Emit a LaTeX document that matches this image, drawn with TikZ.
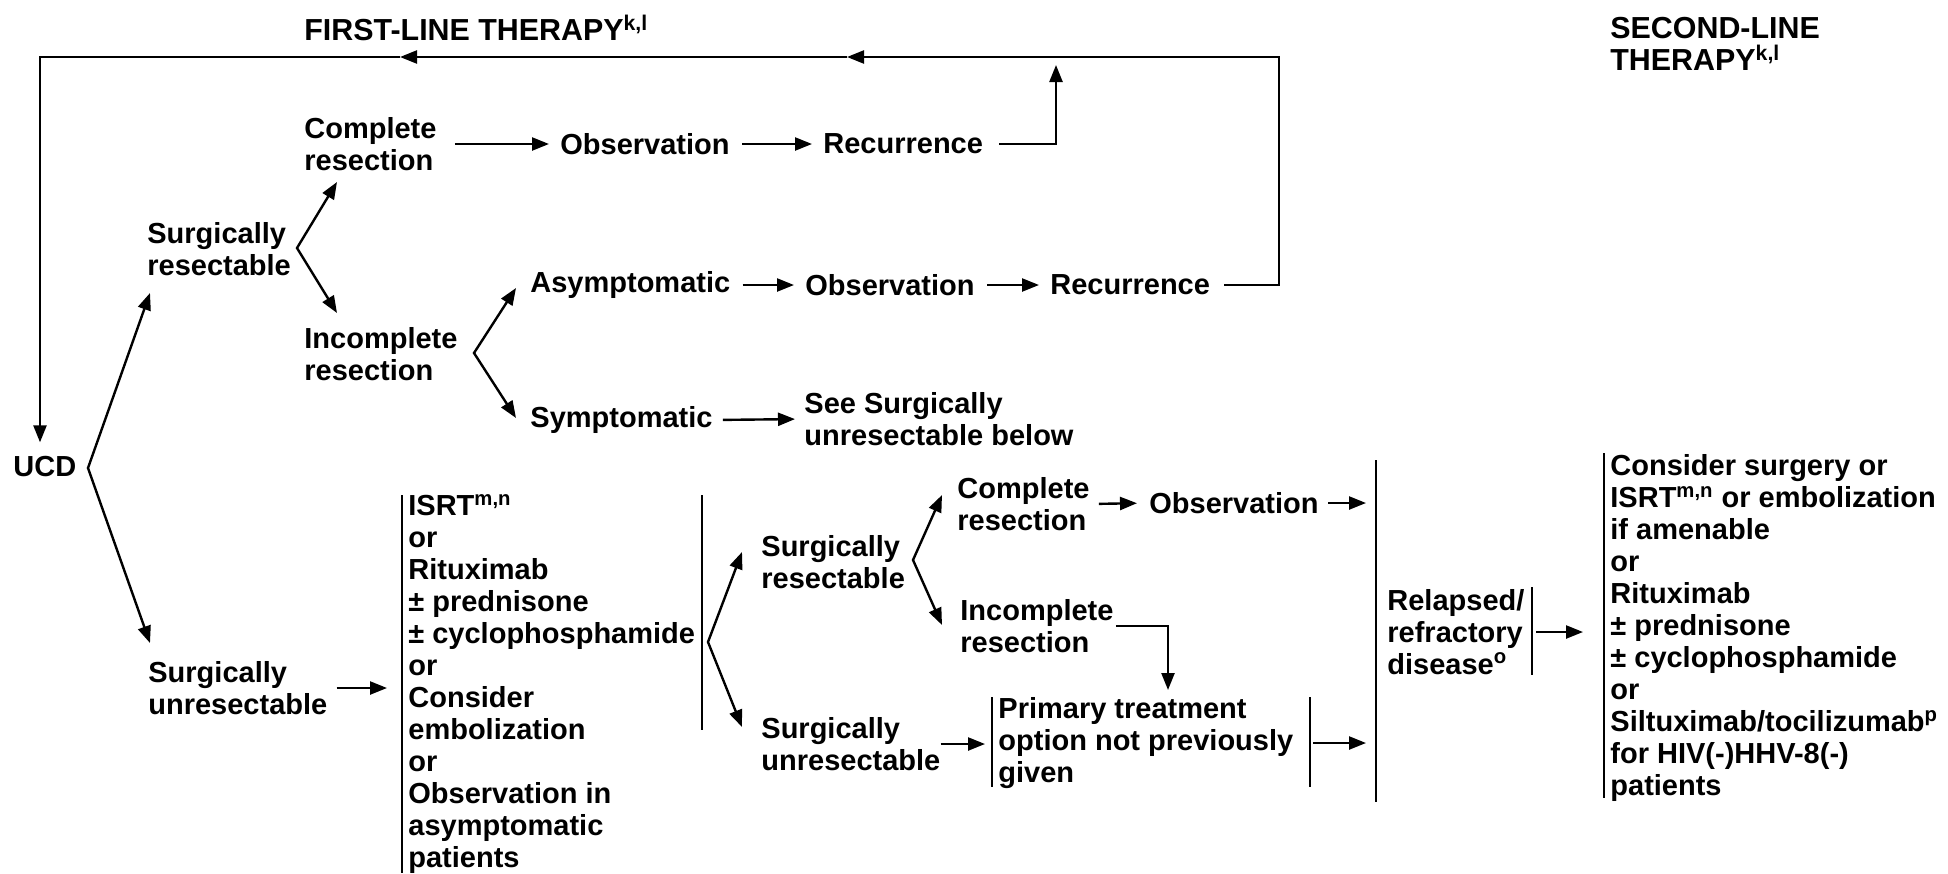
\documentclass[tikz,border=0pt]{standalone}
\usepackage{fontspec}
\setmainfont{Liberation Sans}
\usetikzlibrary{arrows.meta,positioning}
\tikzset{
  ucdtext/.style={anchor=west, align=left, inner sep=0pt, font=\bfseries\fontsize{14.5}{16}\selectfont},
  ucdhead/.style={ucdtext, font=\bfseries\fontsize{15.2}{16}\selectfont},
  ucdline/.style={line width=1.2pt},
  ucdtip/.style={-{Triangle[length=8.5pt,width=6.5pt]}, line width=1.2pt},
  ucdarrow/.style={ucdtip, shorten <=6pt, shorten >=5.5pt},
  ucdtwoway/.style={{Triangle[length=8.5pt,width=6.5pt]}-{Triangle[length=8.5pt,width=6.5pt]}, line width=1.2pt}
}
\begin{document}
\begin{tikzpicture}[x=0.5pt,y=-0.5pt]
  \useasboundingbox (0,0) rectangle (1948,873);

  \node[ucdhead] (head1) at (304,28) {FIRST-LINE THERAPY\textsuperscript{k,l}};
  \node[ucdhead] (head2) at (1610,44) {SECOND-LINE\\THERAPY\textsuperscript{k,l}};

  % first line
  \node[ucdtext] (ucd) at (13,467) {UCD};
  \node[ucdtext] (res1) at (147,249) {Surgically\\resectable};
  \node[ucdtext] (unres1) at (148,688) {Surgically\\unresectable};
  \node[ucdtext] (comp1) at (304,144) {Complete\\resection};
  \node[ucdtext] (incomp1) at (304,354) {Incomplete\\resection};
  \node[ucdtext] (obs1) at (560,144) {Observation};
  \node[ucdtext] (rec1) at (823,144) {Recurrence};
  \node[ucdtext] (asym) at (530,285) {Asymptomatic};
  \node[ucdtext] (obs2) at (805,285) {Observation};
  \node[ucdtext] (rec2) at (1050,285) {Recurrence};
  \node[ucdtext] (sym) at (530,420) {Symptomatic};
  \node[ucdtext] (see) at (804,419) {See Surgically\\unresectable below};
  \node[ucdtext] (firsttx) at (408,684) {ISRT\textsuperscript{m,n}\\or\\Rituximab\\± prednisone\\± cyclophosphamide\\or\\Consider\\embolization\\or\\Observation in\\asymptomatic\\patients};

  \node[ucdtext] (res2) at (761,562) {Surgically\\resectable};
  \node[ucdtext] (unres2) at (761,744) {Surgically\\unresectable};
  \node[ucdtext] (comp2) at (957,504) {Complete\\resection};
  \node[ucdtext] (incomp2) at (960,626) {Incomplete\\resection};
  \node[ucdtext] (obs3) at (1149,503) {Observation};
  \node[ucdtext] (primary) at (998,743) {Primary treatment\\option not previously\\given};

  % second line
  \node[ucdtext] (relapse) at (1387,632) {Relapsed/\\refractory\\disease\textsuperscript{o}};
  \node[ucdtext] (secondtx) at (1610,628) {Consider surgery or\\ISRT\textsuperscript{m,n} or embolization\\if amenable\\or\\Rituximab\\± prednisone\\± cyclophosphamide\\or\\Siltuximab/tocilizumab\textsuperscript{p}\\for HIV(-)HHV-8(-)\\patients};

  % bars
  \coordinate (firstL) at (402,495);
  \coordinate (firstR) at (702,495);
  \coordinate (primL) at (992,697);
  \coordinate (primR) at (1310,697);
  \coordinate (bigbar) at (1376,460);
  \coordinate (relR) at (1532,587);
  \coordinate (secL) at (1604,453);
  \draw[ucdline] (firstL) -- ++(0,378);
  \draw[ucdline] (firstR) -- ++(0,235);
  \draw[ucdline] (primL) -- ++(0,90);
  \draw[ucdline] (primR) -- ++(0,90);
  \draw[ucdline] (bigbar) -- ++(0,342);
  \draw[ucdline] (relR) -- ++(0,88);
  \draw[ucdline] (secL) -- ++(0,345);

  % forks
  \coordinate (forkA) at (88,468);
  \coordinate (forkB) at (297,248);
  \coordinate (forkC) at (474,353);
  \coordinate (forkD) at (708,642);
  \coordinate (forkE) at (913,560);
  \draw[ucdtwoway] (150,293) -- (forkA) -- (150,643);
  \draw[ucdtwoway] (337,182) -- (forkB) -- (337,313);
  \draw[ucdtwoway] (516,288) -- (forkC) -- (516,418);
  \draw[ucdtwoway] (742,552) -- (forkD) -- (742,727);
  \draw[ucdtwoway] (942,495) -- (forkE) -- (942,625);

  % straight arrows
  \draw[ucdarrow, shorten <=9pt] (comp1.east) -- (obs1.west);
  \draw[ucdarrow] (obs1.east) -- (rec1.west);
  \draw[ucdarrow] (asym.east) -- (obs2.west);
  \draw[ucdarrow] (obs2.east) -- (rec2.west);
  \draw[ucdarrow, shorten <=5pt, shorten >=4.5pt] (sym.east) -- (see.west);
  \draw[ucdarrow, shorten <=4.5pt, shorten >=7.5pt] (unres1.east) -- (unres1.east -| firstL);
  \draw[ucdarrow, shorten <=4.5pt, shorten >=6pt] (comp2.east) -- (obs3.west);
  \draw[ucdarrow, shorten <=4.5pt, shorten >=5pt] (obs3.east) -- (obs3.east -| bigbar);
  \draw[ucdarrow, shorten <=0pt, shorten >=3.5pt] (unres2.east) -- (unres2.east -| primL);
  \draw[ucdarrow, shorten <=1.5pt, shorten >=5pt] (primary.east -| primR) -- (primary.east -| bigbar);
  \draw[ucdarrow, shorten <=2pt, shorten >=10.5pt] (relapse.east -| relR) -- (relapse.east -| secL);

  % elbows
  \coordinate (incTip) at (1168,690);
  \draw[ucdtip, shorten <=1pt] (incomp2.east) -| (incTip);
  \coordinate (recTip) at (1056,65);
  \draw[ucdtip, shorten <=8pt] (rec1.east) -| (recTip);

  % loop back to UCD
  \coordinate (loopSE) at (1279,285);
  \coordinate (loopNE) at (1279,57);
  \coordinate (loopA) at (847,57);
  \coordinate (loopB) at (400,57);
  \coordinate (loopNW) at (40,57);
  \draw[ucdtip, shorten <=7pt] (rec2.east) -- (loopSE) -- (loopNE) -- (loopA);
  \draw[ucdtip] (loopA) -- (loopB);
  \draw[ucdtip, shorten >=7pt] (loopB) -- (loopNW) -- (loopNW |- ucd.north);
\end{tikzpicture}
\end{document}
